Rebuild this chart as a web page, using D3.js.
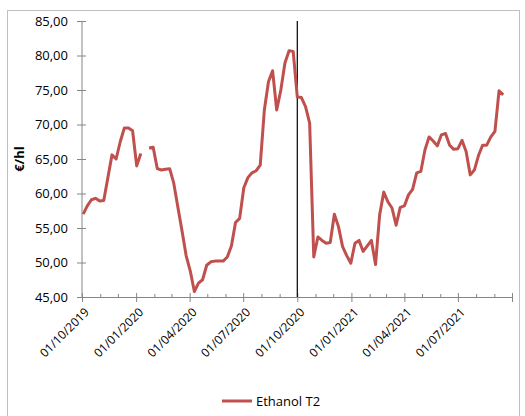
<!DOCTYPE html>
<html>
<head>
<meta charset="utf-8">
<script src="https://cdn.jsdelivr.net/npm/d3@7"></script>
<style>
	body { margin: 0; background: #fff; }
	text { font-family: 'Open Sans', sans-serif; fill: #000; }
</style>
</head>
<body>
<svg id="chart"></svg>
<script>
let width = 525
let height = 416
let margin = ({ top: 21, right: 13, bottom: 119, left: 82 })

// weekly prices, thursdays from 03/10/2019 (null = missing week)
let startDate = '2019-10-03'
let prices = [
	57.0, 58.2, 59.1, 59.3, 58.9, 59.0, 62.3, 65.6, 65.0, 67.5,
	69.5, 69.5, 69.1, 64.0, 65.8, null, 66.6, 66.7, 63.6, 63.4,
	63.5, 63.6, 61.5, 58.0, 54.6, 51.0, 48.8, 45.8, 47.0, 47.5,
	49.6, 50.1, 50.2, 50.2, 50.2, 50.8, 52.4, 55.8, 56.4, 60.8,
	62.3, 63.0, 63.3, 64.1, 72.1, 76.2, 77.8, 72.1, 75.0, 78.9,
	80.7, 80.6, 74.0, 73.9, 72.6, 70.2, 50.8, 53.7, 53.2, 52.8,
	52.9, 57.0, 55.2, 52.3, 51.0, 49.9, 52.8, 53.2, 51.6, 52.4,
	53.2, 49.7, 56.9, 60.2, 58.8, 57.9, 55.4, 58.0, 58.2, 59.8,
	60.6, 63.0, 63.2, 66.3, 68.2, 67.6, 66.9, 68.5, 68.7, 67.0,
	66.4, 66.5, 67.7, 66.1, 62.7, 63.4, 65.5, 67.0, 67.0, 68.2,
	69.0, 74.9, 74.3
]
let seriesName = 'Ethanol T2'
let yTicks = [45, 50, 55, 60, 65, 70, 75, 80, 85]
let xLabelDates = ['2019-10-01', '2020-01-01', '2020-04-01', '2020-07-01', '2020-10-01', '2021-01-01', '2021-04-01', '2021-07-01']
let markerDate = '2020-10-01'
let xDomain = ['2019-10-01', '2021-10-01']

let parse = d3.timeParse('%Y-%m-%d')
let fmtDate = d3.timeFormat('%d/%m/%Y')
let fmtNum = d => d3.format('.2f')(d).replace('.', ',')

let data = prices.map((v, i) => ({ date: d3.timeDay.offset(parse(startDate), 7 * i), value: v }))

let x = d3.scaleTime()
	.domain(xDomain.map(parse))
	.range([margin.left, width - margin.right])
let y = d3.scaleLinear()
	.domain([45, 85])
	.range([height - margin.bottom, margin.top])

let svg = d3.select('#chart')
	.attr('width', width)
	.attr('height', height)

// outer frame
svg.append('rect')
	.attr('x', 7.5).attr('y', 10.5)
	.attr('width', 512).attr('height', 430)
	.attr('fill', 'none')
	.attr('stroke', '#c0c0c0')

let axisColor = '#868686'
let y0 = y(45)

// y axis
let gy = svg.append('g')
gy.append('line')
	.attr('x1', x.range()[0]).attr('x2', x.range()[0])
	.attr('y1', y(85)).attr('y2', y0)
	.attr('stroke', axisColor)
gy.selectAll('line.tick')
	.data(yTicks)
	.join('line')
	.attr('class', 'tick')
	.attr('x1', x.range()[0] - 5).attr('x2', x.range()[0] + 4)
	.attr('y1', d => y(d) + 0.5).attr('y2', d => y(d) + 0.5)
	.attr('stroke', axisColor)
gy.selectAll('text')
	.data(yTicks)
	.join('text')
	.attr('x', 68)
	.attr('y', d => y(d))
	.attr('dy', '0.36em')
	.attr('text-anchor', 'end')
	.style('font-size', '13px')
	.text(fmtNum)

// x axis
let gx = svg.append('g')
gx.append('line')
	.attr('x1', x.range()[0]).attr('x2', x.range()[1])
	.attr('y1', y0 + 0.5).attr('y2', y0 + 0.5)
	.attr('stroke', axisColor)
let months = d3.timeMonth.range(parse(xDomain[0]), d3.timeDay.offset(parse(xDomain[1]), 1))
gx.selectAll('line.tick')
	.data(months)
	.join('line')
	.attr('class', 'tick')
	.attr('x1', d => x(d) + 0.5).attr('x2', d => x(d) + 0.5)
	.attr('y1', d => d.getMonth() % 3 === 0 ? y0 - 4 : y0 - 3)
	.attr('y2', d => d.getMonth() % 3 === 0 ? y0 + 5 : y0)
	.attr('stroke', axisColor)
gx.selectAll('text')
	.data(xLabelDates.map(parse))
	.join('text')
	.attr('transform', d => `translate(${x(d) + 5},${y0 + 13}) rotate(-45)`)
	.attr('text-anchor', 'end')
	.attr('dy', '0.35em')
	.style('font-size', '12px')
	.text(fmtDate)

// y title
svg.append('text')
	.attr('transform', `translate(24,${(y(85) + y0) / 2}) rotate(-90)`)
	.attr('text-anchor', 'middle')
	.style('font-size', '13px')
	.style('font-weight', 'bold')
	.text('€/hl')

// marker line at 01/10/2020
svg.append('line')
	.attr('x1', x(parse(markerDate))).attr('x2', x(parse(markerDate)))
	.attr('y1', y(85)).attr('y2', y0)
	.attr('stroke', '#000')
	.attr('stroke-width', 1.2)

let red = '#c0504d'

// series
let line = d3.line()
	.defined(d => d.value !== null)
	.x(d => x(d.date))
	.y(d => y(d.value))
svg.append('path')
	.datum(data)
	.attr('d', line)
	.attr('fill', 'none')
	.attr('stroke', red)
	.attr('stroke-width', 3)
	.attr('stroke-linejoin', 'round')

// legend
svg.append('line')
	.attr('x1', 222).attr('x2', 252)
	.attr('y1', 401).attr('y2', 401)
	.attr('stroke', red)
	.attr('stroke-width', 3)
svg.append('text')
	.attr('x', 256).attr('y', 401)
	.attr('dy', '0.36em')
	.style('font-size', '13px')
	.text(seriesName)
</script>
</body>
</html>
